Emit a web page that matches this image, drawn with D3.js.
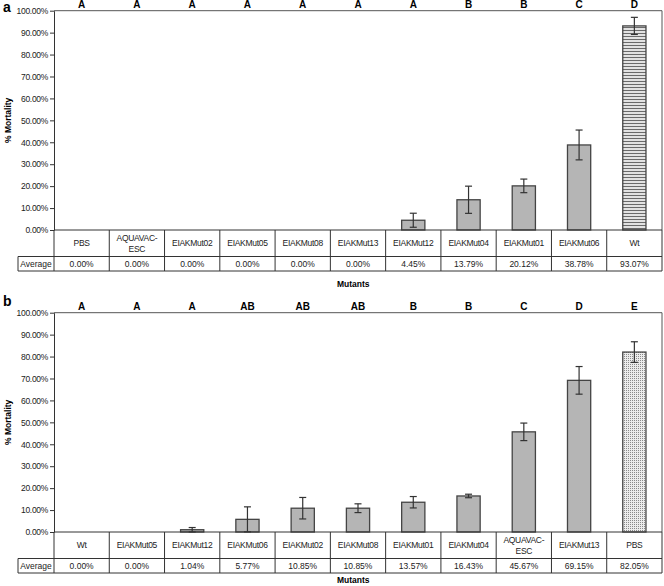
<!DOCTYPE html>
<html>
<head>
<meta charset="utf-8">
<script src="https://cdn.jsdelivr.net/npm/d3@7"></script>
<style>
  body { margin: 0; background: #fff; }
  svg { font-family: "Liberation Sans", Arial, sans-serif; }
</style>
</head>
<body>
<svg id="chart" width="664" height="586"></svg>
<script>
// Panel a data
var catsA = ["PBS", "AQUAVAC-ESC", "EIAKMut02", "EIAKMut05", "EIAKMut08", "EIAKMut13", "EIAKMut12", "EIAKMut04", "EIAKMut01", "EIAKMut06", "Wt"];
var meansA = [0, 0, 0, 0, 0, 0, 4.45, 13.79, 20.12, 38.78, 93.07];
var errA = [0, 0, 0, 0, 0, 0, 3.2, 6.2, 3.1, 6.8, 3.9];
var lettersA = ["A", "A", "A", "A", "A", "A", "A", "B", "B", "C", "D"];

// Panel b data
var catsB = ["Wt", "EIAKMut05", "EIAKMut12", "EIAKMut06", "EIAKMut02", "EIAKMut08", "EIAKMut01", "EIAKMut04", "AQUAVAC-ESC", "EIAKMut13", "PBS"];
var meansB = [0, 0, 1.04, 5.77, 10.85, 10.85, 13.57, 16.43, 45.67, 69.15, 82.05];
var errB = [0, 0, 1.0, 5.7, 4.9, 2.0, 2.6, 0.8, 4.0, 6.3, 4.7];
var lettersB = ["A", "A", "A", "AB", "AB", "AB", "B", "B", "C", "D", "E"];

var yTicks = [0, 10, 20, 30, 40, 50, 60, 70, 80, 90, 100];

var svg = d3.select("#chart");
var defs = svg.append("defs");

// horizontal stripes (Wt in panel a)
var stripes = defs.append("pattern").attr("id", "stripes")
    .attr("patternUnits", "userSpaceOnUse").attr("width", 6).attr("height", 3);
stripes.append("rect").attr("width", 6).attr("height", 3).attr("fill", "#e2e2e2");
stripes.append("rect").attr("width", 6).attr("height", 1).attr("fill", "#6a6a6a");

// fine dots (PBS in panel b)
var dots = defs.append("pattern").attr("id", "dots")
    .attr("patternUnits", "userSpaceOnUse").attr("width", 2).attr("height", 2);
dots.append("rect").attr("width", 2).attr("height", 2).attr("fill", "#ececec");
dots.append("rect").attr("width", 1).attr("height", 1).attr("fill", "#8a8a8a");

function fillFor(cat) {
    if (cat == "Wt") return "url(#stripes)";
    if (cat == "PBS") return "url(#dots)";
    return "#b5b5b5";
}

function drawPanel(label, labelY, cats, means, errs, letters, top, zero, rowSep, bottom, mutY, patternCat) {
    var left = 54, right = 662, tableLeft = 18;
    var g = svg.append("g");

    var x = d3.scaleBand().domain(cats).range([left, right]);
    var y = d3.scaleLinear().domain([0, 100]).range([zero, top]);
    var bw = x.bandwidth() * 0.42;

    // panel letter
    g.append("text").attr("x", 3).attr("y", labelY)
        .attr("font-size", 14).attr("font-weight", "bold").text(label);

    // plot frame (top and right)
    g.append("path")
        .attr("d", "M" + left + "," + top + "H" + right + "V" + zero)
        .attr("fill", "none").attr("stroke", "#555").attr("stroke-width", 1);

    // y axis
    var yAxis = d3.axisLeft(y).tickValues(yTicks).tickSizeInner(4).tickSizeOuter(0)
        .tickFormat(function (d) { return d3.format(".2f")(d) + "%"; });
    var ax = g.append("g").attr("transform", "translate(" + left + ",0)").call(yAxis);
    ax.select(".domain").attr("stroke", "#333");
    ax.selectAll(".tick line").attr("stroke", "#333");
    ax.selectAll(".tick text").attr("font-size", 8.5).attr("fill", "#222")
        .attr("letter-spacing", -0.3).attr("x", -6);

    // y title
    g.append("text")
        .attr("transform", "translate(11," + ((top + zero) / 2) + ") rotate(-90)")
        .attr("text-anchor", "middle").attr("font-size", 8.5).attr("font-weight", "bold")
        .text("% Mortality");

    // bars
    g.selectAll(".bar").data(cats).enter().append("rect")
        .attr("x", function (d) { return x(d) + (x.bandwidth() - bw) / 2; })
        .attr("y", function (d, i) { return y(means[i]); })
        .attr("width", bw)
        .attr("height", function (d, i) { return zero - y(means[i]); })
        .attr("fill", function (d) { return d == patternCat ? fillFor(d) : "#b5b5b5"; })
        .attr("stroke", "#444").attr("stroke-width", 1.3)
        .attr("display", function (d, i) { return means[i] > 0 ? null : "none"; });

    // error bars
    var eb = g.selectAll(".err").data(cats).enter().append("g")
        .attr("display", function (d, i) { return errs[i] > 0 ? null : "none"; });
    eb.append("line")
        .attr("x1", function (d) { return x(d) + x.bandwidth() / 2; })
        .attr("x2", function (d) { return x(d) + x.bandwidth() / 2; })
        .attr("y1", function (d, i) { return y(Math.min(100, means[i] + errs[i])); })
        .attr("y2", function (d, i) { return y(Math.max(0, means[i] - errs[i])); })
        .attr("stroke", "#333").attr("stroke-width", 1.2);
    [1, -1].forEach(function (s) {
        eb.append("line")
            .attr("x1", function (d) { return x(d) + x.bandwidth() / 2 - 3.5; })
            .attr("x2", function (d) { return x(d) + x.bandwidth() / 2 + 3.5; })
            .attr("y1", function (d, i) { return y(Math.max(0, means[i] + s * errs[i])); })
            .attr("y2", function (d, i) { return y(Math.max(0, means[i] + s * errs[i])); })
            .attr("stroke", "#333").attr("stroke-width", 1.2);
    });

    // significance letters
    g.selectAll(".letter").data(cats).enter().append("text")
        .attr("x", function (d) { return x(d) + x.bandwidth() / 2; })
        .attr("y", top - 3)
        .attr("text-anchor", "middle").attr("font-size", 10).attr("font-weight", "bold")
        .text(function (d, i) { return letters[i]; });

    // table grid
    var tbl = g.append("g").attr("stroke", "#333").attr("stroke-width", 1).attr("fill", "none");
    tbl.append("line").attr("x1", left).attr("x2", right).attr("y1", zero).attr("y2", zero);
    tbl.append("line").attr("x1", tableLeft).attr("x2", right).attr("y1", rowSep).attr("y2", rowSep);
    tbl.append("line").attr("x1", tableLeft).attr("x2", right).attr("y1", bottom).attr("y2", bottom);
    tbl.append("line").attr("x1", tableLeft).attr("x2", tableLeft).attr("y1", rowSep).attr("y2", bottom);
    tbl.selectAll(".col").data(cats).enter().append("line")
        .attr("x1", function (d) { return x(d) + x.bandwidth(); })
        .attr("x2", function (d) { return x(d) + x.bandwidth(); })
        .attr("y1", zero).attr("y2", bottom);
    tbl.append("line").attr("x1", left).attr("x2", left).attr("y1", zero).attr("y2", bottom);

    // category names
    var names = g.selectAll(".name").data(cats).enter().append("text")
        .attr("text-anchor", "middle").attr("font-size", 8.5).attr("fill", "#222")
        .attr("letter-spacing", -0.3);
    names.each(function (d) {
        var t = d3.select(this);
        var cx = x(d) + x.bandwidth() / 2;
        var mid = (zero + rowSep) / 2;
        if (d == "AQUAVAC-ESC") {
            t.append("tspan").attr("x", cx).attr("y", mid - 2).text("AQUAVAC-");
            t.append("tspan").attr("x", cx).attr("y", mid + 9).text("ESC");
        } else {
            t.attr("x", cx).attr("y", mid + 3).text(d);
        }
    });

    // averages row
    g.append("text").attr("x", (tableLeft + left) / 2).attr("y", (rowSep + bottom) / 2 + 3)
        .attr("text-anchor", "middle").attr("font-size", 8.5).attr("fill", "#222")
        .text("Average");
    g.selectAll(".avg").data(cats).enter().append("text")
        .attr("x", function (d) { return x(d) + x.bandwidth() / 2; })
        .attr("y", (rowSep + bottom) / 2 + 3)
        .attr("text-anchor", "middle").attr("font-size", 8.5).attr("fill", "#222")
        .text(function (d, i) { return means[i].toFixed(2) + "%"; });

    // x title
    g.append("text").attr("x", 337).attr("y", mutY)
        .attr("font-size", 8.5).attr("font-weight", "bold").text("Mutants");
}

drawPanel("a", 12, catsA, meansA, errA, lettersA, 10.7, 230, 256.5, 271, 287, "Wt");
drawPanel("b", 306, catsB, meansB, errB, lettersB, 312.7, 532, 558.5, 573, 583, "PBS");
</script>
</body>
</html>
